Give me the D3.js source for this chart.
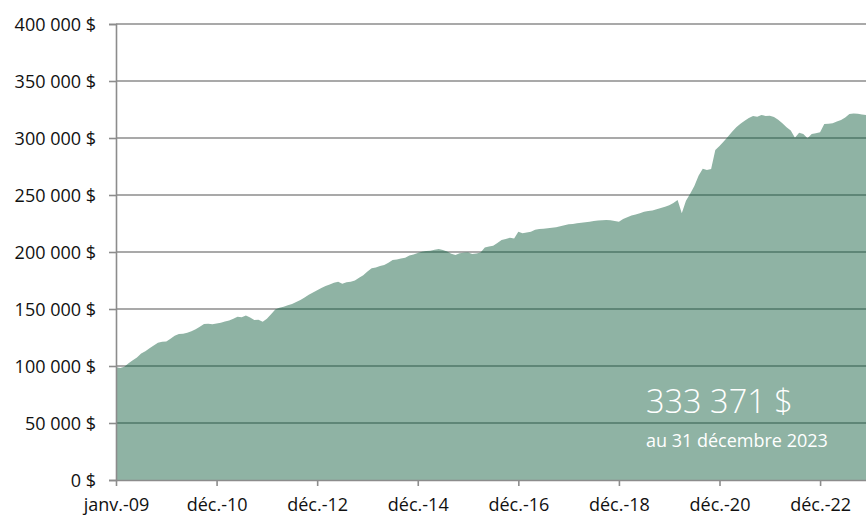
<!DOCTYPE html>
<html>
<head>
<meta charset="utf-8">
<script src="https://cdn.jsdelivr.net/npm/d3@7"></script>
<style>
  html, body { margin: 0; padding: 0; background: #ffffff; }
  svg { display: block; }
  text { font-family: "Open Sans", Lato, sans-serif; }
</style>
</head>
<body>
<svg id="chart" width="866" height="516"></svg>
<script>
// Monthly portfolio value (index 0 = start, janv.-09 ... index 180 = déc.-23)
const portfolioValues = [
  99000, 98200, 99300, 102500, 105000, 107500, 111000, 113000, 115500, 118000,
  120300, 121300, 121500, 124000, 126500, 128000, 128300, 129200, 130500, 132200,
  134500, 136800, 137000, 136700, 137200, 138000, 139000, 140000, 141500, 143300,
  142700, 144400, 142500, 140400, 140500, 138900, 141500, 145500, 149500, 151000,
  152000, 153200, 154300, 156200, 158000, 160000, 162500, 164500, 166500, 168500,
  170200, 171500, 173000, 174000, 172200, 173500, 174000, 175000, 177500, 179500,
  183000, 185700, 186500, 187700, 188500, 190500, 193000, 193500, 194200, 195000,
  197000, 197800, 199200, 200300, 200800, 201200, 202000, 202600, 201800, 200500,
  198500, 197400, 198800, 199400, 199600, 198200, 198600, 199600, 204000, 204800,
  205500, 208000, 210500, 211500, 212500, 211900, 217800, 216400, 217000, 217800,
  219500, 220200, 220500, 220800, 221300, 221800, 222500, 223500, 224300, 224600,
  225200, 225600, 226000, 226500, 227200, 227600, 227900, 228100, 227800, 227200,
  226600, 229000, 230500, 232000, 233000, 234000, 235200, 236000, 236500, 237400,
  238500, 239800, 241000, 243000, 245600, 233900, 245000, 251000, 258000, 266900,
  273000, 271900, 272800, 289500, 293000, 297000, 301100, 305500, 309400, 312500,
  315200, 317500, 319300, 318700, 320200, 319300, 319600, 318500, 316000, 313000,
  309400, 306500, 300300, 304600, 303500, 299700, 303500, 304100, 305000, 312300,
  312600, 312900, 314500, 315800, 318000, 321100, 321600, 321200, 320600, 320200,
  319500
];
const xTickLabels = ["janv.-09", "déc.-10", "déc.-12", "déc.-14", "déc.-16", "déc.-18", "déc.-20", "déc.-22"];
const yTickValues = [0, 50000, 100000, 150000, 200000, 250000, 300000, 350000, 400000];
const annotationValue = "333 371 $";
const annotationDate = "au 31 décembre 2023";

const svg = d3.select("#chart");
const W = 866, H = 516;
const FONT = "'Open Sans', Lato, sans-serif";

const x = d3.scaleLinear().domain([0, 180]).range([116, 116 + 180 * 4.191]);
const y = d3.scaleLinear().domain([0, 400000]).range([480, 24]);

const fmt = v => d3.format(",")(v).replace(/,/g, " ") + " $";

// gridlines (behind area)
svg.append("g").selectAll("line").data(yTickValues.filter(v => v > 0)).join("line")
  .attr("x1", 116).attr("x2", W)
  .attr("y1", d => y(d)).attr("y2", d => y(d))
  .attr("stroke", "#8c8c8c").attr("stroke-width", 1.6);

// area
const area = d3.area()
  .x((d, i) => x(i))
  .y0(y(0))
  .y1(d => y(d));

svg.append("defs").append("clipPath").attr("id", "areaClip")
  .append("path").attr("d", area(portfolioValues));

svg.append("path")
  .attr("d", area(portfolioValues))
  .attr("fill", "#8fb3a4");

// gridlines inside area (darker)
svg.append("g").attr("clip-path", "url(#areaClip)")
  .selectAll("line").data(yTickValues.filter(v => v > 0)).join("line")
  .attr("x1", 116).attr("x2", W)
  .attr("y1", d => y(d)).attr("y2", d => y(d))
  .attr("stroke", "#4f7769").attr("stroke-width", 1.6);

// Y axis
const yAxis = d3.axisLeft(y).tickValues(yTickValues).tickFormat(fmt).tickSize(7).tickPadding(13);
const gy = svg.append("g").attr("transform", "translate(116,0)").call(yAxis);
gy.select(".domain").attr("stroke", "#8c8c8c").attr("stroke-width", 1.6);
gy.selectAll(".tick line").attr("stroke", "#8c8c8c").attr("stroke-width", 1.6);
gy.selectAll(".tick text").attr("font-size", 18).attr("fill", "#111111")
  .attr("font-family", FONT).attr("dy", "0.36em");

// X axis
const xTickIdx = xTickLabels.map((d, i) => i * 24);
const xAxis = d3.axisBottom(x).tickValues(xTickIdx)
  .tickFormat((d, i) => xTickLabels[i]).tickSize(6).tickSizeOuter(0);
const gx = svg.append("g").attr("transform", "translate(0,480)").call(xAxis);
gx.select(".domain").attr("stroke", "#8c8c8c").attr("stroke-width", 1.6)
  .attr("d", `M116,0.5H${W}`);
gx.selectAll(".tick line").attr("stroke", "#8c8c8c").attr("stroke-width", 1.6);
gx.selectAll(".tick text").attr("font-size", 18).attr("fill", "#111111")
  .attr("font-family", FONT)
  .attr("y", 31).attr("dy", "0");

// annotation
svg.append("text").attr("x", 646).attr("y", 413)
  .attr("font-size", 32.5).attr("font-weight", 300).attr("fill", "#ffffff")
  .attr("font-family", FONT)
  .text(annotationValue);
svg.append("text").attr("x", 646).attr("y", 447)
  .attr("font-size", 18).attr("fill", "#ffffff")
  .attr("font-family", FONT)
  .text(annotationDate);
</script>
</body>
</html>
